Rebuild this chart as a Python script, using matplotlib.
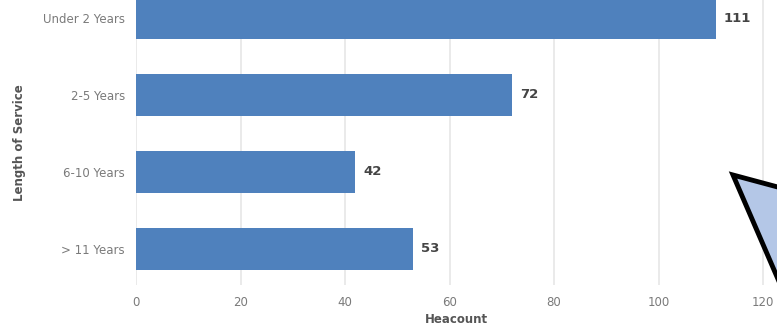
import matplotlib.pyplot as plt
from matplotlib.patches import Polygon

categories = ['Under 2 Years', '2-5 Years', '6-10 Years', '> 11 Years']
headcount = [111, 72, 42, 53]
xticks = [0, 20, 40, 60, 80, 100, 120]

W, H = 777, 328
fig = plt.figure(figsize=(W / 100, H / 100), dpi=100)
ax = fig.add_axes([136 / W, 1 - 285 / H, 1 - 136 / W, 285 / H])

pos = list(range(len(categories)))
ax.barh(pos, headcount, height=0.545, color='#4f81bd', zorder=3)
for y, v in zip(pos, headcount):
    ax.text(v + 1.5, y, str(v), va='center', ha='left', fontsize=9.5,
            fontweight='bold', color='#444444')

ax.set_xlim(0, (W - 136) / (627 / 120))
ax.set_ylim(3.47, -0.234)
ax.set_yticks(pos)
ax.set_yticklabels(categories)
ax.set_xticks(xticks)
ax.tick_params(length=0, labelsize=8.5, labelcolor='#7a7a7a')
ax.tick_params(axis='x', pad=8)
ax.tick_params(axis='y', pad=8)
ax.grid(axis='x', color='#e8e8e8', linewidth=1.3, zorder=0)
for s in ax.spines.values():
    s.set_visible(False)

ax.set_xlabel('Heacount', fontsize=8.5, fontweight='bold', color='#555555', labelpad=3)
ax.set_ylabel('Length of Service', fontsize=8.5, fontweight='bold', color='#555555', labelpad=12)

# callout shape poking in from the right edge
pts = [(733 / W, 1 - 175 / H), (800 / W, 1 - 193 / H), (800 / W, 1 - 330 / H)]
fig.patches.append(Polygon(pts, closed=True, transform=fig.transFigure,
                           facecolor='#b4c7e7', edgecolor='black', linewidth=3.5,
                           joinstyle='miter', zorder=10))

fig.savefig('out.png', dpi=100)
